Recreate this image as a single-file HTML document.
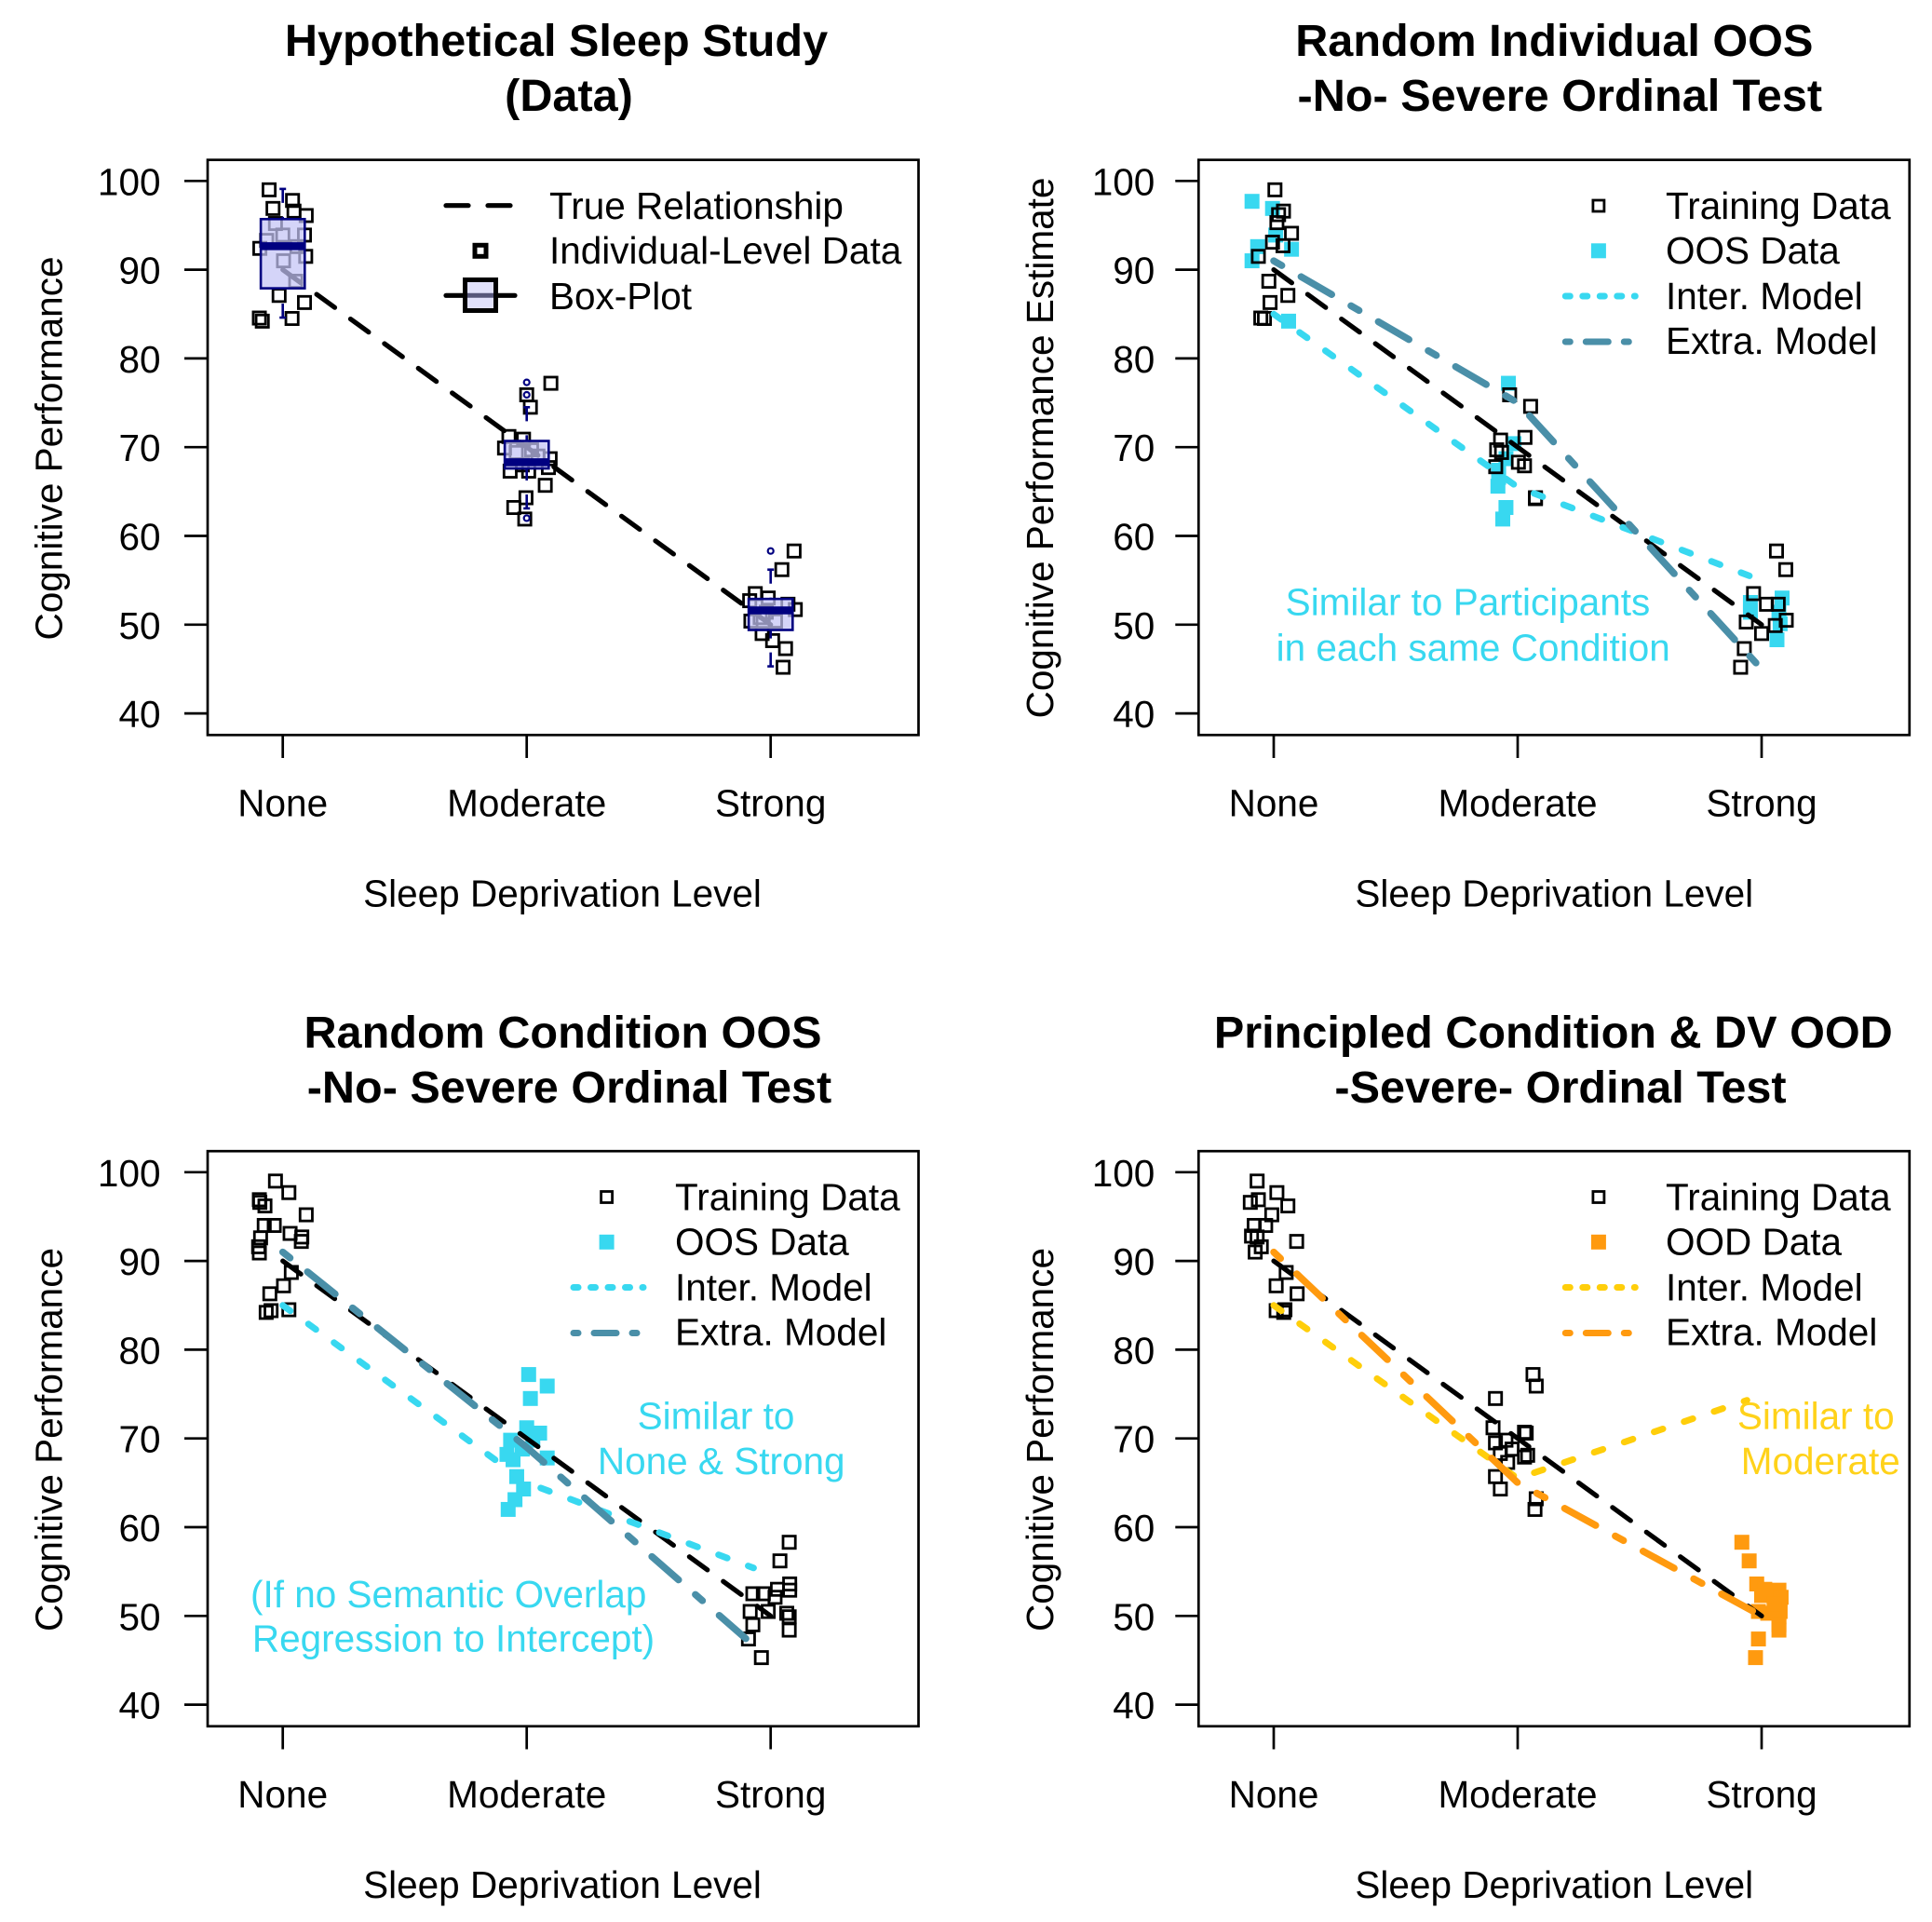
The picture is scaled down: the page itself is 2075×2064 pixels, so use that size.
<!DOCTYPE html>
<html lang="en">
<head>
<meta charset="utf-8">
<title>Hypothetical Sleep Study</title>
<style>
html,body{margin:0;padding:0;background:#fff;}
svg{display:block;}
text{font-family:"Liberation Sans",Arial,sans-serif;font-size:40.5px;fill:#000;}
.title{font-size:48.6px;font-weight:bold;text-anchor:middle;}
.axt{text-anchor:middle;}
.cy{fill:#38d8f0;text-anchor:middle;}
.ye{fill:#ffd21a;text-anchor:middle;}
</style>
</head>
<body>
<svg xmlns="http://www.w3.org/2000/svg" width="2075" height="2064" viewBox="0 0 2075 2064">
<rect width="2075" height="2064" fill="#fff"/>

<g id="p1">
  <text class="title" x="597.5" y="60">Hypothetical Sleep Study</text>
  <text class="title" x="611" y="119">(Data)</text>
  <text class="axt" x="604" y="973.7">Sleep Deprivation Level</text>
  <text class="axt" transform="translate(66.5,481.5) rotate(-90)">Cognitive Performance</text>
  <g id="p1-marks"></g>
  <g>
    <line x1="479" x2="553" y1="220.7" y2="220.7" stroke="#000" stroke-width="5.2" stroke-linecap="round" stroke-dasharray="24 21"/>
    <text x="590" y="235">True Relationship</text>
    <rect x="510" y="263.3" width="12" height="12" fill="#fff" stroke="#000" stroke-width="5"/>
    <text x="590" y="283">Individual-Level Data</text>
    <line x1="479" x2="553" y1="317.3" y2="317.3" stroke="#000" stroke-width="5.2" stroke-linecap="round"/>
    <rect x="499.5" y="300.5" width="33" height="33" fill="#e0e0fa" stroke="#000" stroke-width="5"/>
    <line x1="502" x2="530" y1="317.3" y2="317.3" stroke="#55557a" stroke-width="5"/>
    <text x="590" y="332">Box-Plot</text>
  </g>
</g>

<g id="p2" transform="translate(1064.3,0)">
  <text class="title" x="605" y="60">Random Individual OOS</text>
  <text class="title" x="611" y="119">-No- Severe Ordinal Test</text>
  <text class="axt" x="605" y="973.7">Sleep Deprivation Level</text>
  <text class="axt" transform="translate(66.5,481) rotate(-90)">Cognitive Performance Estimate</text>
  <g id="p2-marks"></g>
  <text class="cy" x="512.2" y="660.7">Similar to Participants</text>
  <text class="cy" x="517.9" y="709.3">in each same Condition</text>
  <g>
    <rect x="646.6" y="215" width="12" height="12" fill="none" stroke="#000" stroke-width="2.8"/>
    <text x="724.7" y="235">Training Data</text>
    <rect x="644.6" y="261.3" width="16" height="16" fill="#38d8f0"/>
    <text x="724.7" y="283">OOS Data</text>
    <line x1="617" x2="692" y1="318" y2="318" stroke="#38d8f0" stroke-width="7" stroke-linecap="round" stroke-dasharray="5 13.5"/>
    <text x="724.7" y="332">Inter. Model</text>
    <line x1="617" x2="688" y1="367" y2="367" stroke="#4a8fa8" stroke-width="7" stroke-linecap="round" stroke-dasharray="5 17 24 17"/>
    <text x="724.7" y="380">Extra. Model</text>
  </g>
</g>

<g id="p3" transform="translate(0,1064.5)">
  <text class="title" x="604.5" y="60.5">Random Condition OOS</text>
  <text class="title" x="611.5" y="119.5">-No- Severe Ordinal Test</text>
  <text class="axt" x="604" y="973.7">Sleep Deprivation Level</text>
  <text class="axt" transform="translate(66.5,481.5) rotate(-90)">Cognitive Performance</text>
  <g id="p3-marks"></g>
  <text class="cy" x="769" y="470">Similar to</text>
  <text class="cy" x="774.7" y="518.5">None &amp; Strong</text>
  <text class="cy" x="481.7" y="661.5">(If no Semantic Overlap</text>
  <text class="cy" x="487" y="709">Regression to Intercept)</text>
  <g>
    <rect x="645.6" y="215" width="12" height="12" fill="none" stroke="#000" stroke-width="2.8"/>
    <text x="725" y="235">Training Data</text>
    <rect x="643.6" y="261.3" width="16" height="16" fill="#38d8f0"/>
    <text x="725" y="283">OOS Data</text>
    <line x1="616" x2="691" y1="318" y2="318" stroke="#38d8f0" stroke-width="7" stroke-linecap="round" stroke-dasharray="5 13.5"/>
    <text x="725" y="332">Inter. Model</text>
    <line x1="616" x2="687" y1="367" y2="367" stroke="#4a8fa8" stroke-width="7" stroke-linecap="round" stroke-dasharray="5 17 24 17"/>
    <text x="725" y="380">Extra. Model</text>
  </g>
</g>

<g id="p4" transform="translate(1064.3,1064.5)">
  <text class="title" x="604" y="60.5">Principled Condition &amp; DV OOD</text>
  <text class="title" x="611.7" y="119.5">-Severe- Ordinal Test</text>
  <text class="axt" x="605" y="973.7">Sleep Deprivation Level</text>
  <text class="axt" transform="translate(66.5,481.5) rotate(-90)">Cognitive Performance</text>
  <g id="p4-marks"></g>
  <text class="ye" x="886" y="470">Similar to</text>
  <text class="ye" x="891" y="518.5">Moderate</text>
  <g>
    <rect x="646.6" y="215" width="12" height="12" fill="none" stroke="#000" stroke-width="2.8"/>
    <text x="724.7" y="235">Training Data</text>
    <rect x="644.6" y="261.3" width="16" height="16" fill="#ff9a0f"/>
    <text x="724.7" y="283">OOD Data</text>
    <line x1="617" x2="692" y1="318" y2="318" stroke="#ffce0a" stroke-width="7" stroke-linecap="round" stroke-dasharray="5 13.5"/>
    <text x="724.7" y="332">Inter. Model</text>
    <line x1="617" x2="688" y1="367" y2="367" stroke="#ff9a0f" stroke-width="7" stroke-linecap="round" stroke-dasharray="5 17 24 17"/>
    <text x="724.7" y="380">Extra. Model</text>
  </g>
</g>
</svg>

<script>
// Shared axis data
var categories = ["None", "Moderate", "Strong"];
var yTicks = [40, 50, 60, 70, 80, 90, 100];
var trueX = [0, 1, 2];
var trueY = [90, 70, 50];

// Panel 1: individual data
var p1DataX = [-.056,-.04,.04,.046,.096,-.03,0,.089,-.066,-.094,.058,.094,.003,.053,-.015,.089,.038,-.096,-.084,
  1.099,1,1.015,.927,.987,.909,1.096,.932,1.089,1.076,.997,.947,.992,.957,1.02,1.046,.982,1.008,
  2.096,2.046,1.937,1.99,1.914,2.071,2.101,1.919,1.965,2.008,2.061,2.051,1.982,2.02,1.957];
var p1DataY = [99,96.9,97.8,96.6,96.1,95.2,93.9,93.9,93.3,92.4,92.6,91.5,91,88.7,87.1,86.3,84.5,84.55,84.2,
  77.2,75.9,74.5,71.2,70.9,69.9,68.7,67.3,67.7,65.7,64.3,63.2,61.9,69.4,69.7,69,68,67.3,
  58.3,56.2,53.5,53,52.7,52.3,51.7,50.4,49,48.2,47.3,45.2,51.4,50.4,50.8];
var boxCenters = [0, 1, 2];
var boxQ1 = [87.9, 67.6, 49.4];
var boxMedian = [92.65, 68.3, 51.6];
var boxQ3 = [95.7, 70.7, 52.9];
var whiskerLow = [84.6, 63.1, 45.3];
var whiskerHigh = [99.1, 74.5, 56.2];
var outlierX = [1, 1, 1, 2];
var outlierY = [77.3, 75.9, 62, 58.3];

// Panel 2: random individual OOS
var p2TrainX = [.005,.04,.02,.013,.073,-.005,.038,-.063,-.02,.058,-.015,-.053,-.038,
  .967,1.053,1.03,.93,.914,.934,.91,1.003,1.028,1.073,1.073,
  2.061,2.099,1.967,2.02,2.068,1.937,2.101,2.056,2,1.929,1.914];
var p2TrainY = [99,96.6,96.2,95.3,94.1,93.1,92.7,91.5,88.7,87.1,86.3,84.55,84.5,
  75.9,74.6,71.1,70.8,69.7,69.4,67.8,68.3,67.9,64.3,64.2,
  58.3,56.2,53.5,52.3,52.3,50.3,50.5,49.9,49,47.3,45.2];
var p2TestX = [-.089,-.005,.008,-.066,.073,-.089,.061,
  .962,.985,.952,.922,.919,.952,.939,.922,
  2.084,1.954,1.954,2.071,2.063,2.076];
var p2TestY = [97.7,96.9,93.9,92.6,92.3,91,84.2,
  77.2,70.4,68.7,67.4,65.6,63.2,61.9,66.6,
  53,52.5,51.4,51.4,48.3,50.1];
var p2InterX = [0, 1, 1.95];
var p2InterY = [85, 65.5, 55.5];
var p2ExtraX = [0, 1, 2];
var p2ExtraY = [91, 75, 45];

// Panel 3: random condition OOS
var p3TrainX = [-.03,.025,-.096,-.094,-.073,.096,-.076,-.035,.03,.078,.076,-.091,-.099,-.096,.035,.003,-.053,.025,-.048,-.068,
  2.076,2.038,2.078,2.078,2.028,1.97,1.927,2.018,1.916,2.066,1.99,2.076,1.927,2.076,1.909,1.962];
var p3TrainY = [99,97.7,96.9,96.6,96.2,95.2,94,94,93.1,92.7,92.2,92.6,91.6,90.9,88.7,87.2,86.3,84.5,84.4,84.2,
  58.3,56.2,53.6,52.9,53,52.5,52.5,52.1,50.5,50.3,50.5,49.9,49,48.4,47.4,45.3];
var p3TestX = [1.008,1.084,1.015,1,1.053,.934,1.025,.919,.982,1.084,.944,.959,.987,.952,.924];
var p3TestY = [77.2,75.9,74.5,71.2,70.6,69.8,69.8,68.2,68.8,67.8,67.6,65.7,64.3,63.1,62];
var p3InterX = [0, 1, 1.93];
var p3InterY = [85, 65, 55.4];
var p3ExtraX = [0, 1, 1.95];
var p3ExtraY = [91, 69, 46.2];

// Panel 4: principled OOD
var p4TrainX = [-.068,.013,-.096,-.063,.058,-.008,-.08,-.033,-.068,-.091,.094,-.051,-.076,.051,.01,.096,.046,.01,.041,
  1.063,1.076,.909,.899,1.028,1.035,.952,.909,.977,.929,1.028,1.041,.959,.909,.929,1.076,1.071];
var p4TrainY = [99,97.7,96.6,96.9,96.2,95.2,94,94,92.7,92.8,92.2,91.6,91,88.7,87.2,86.3,84.5,84.4,84.2,
  77.2,75.9,74.5,71.2,70.7,70.6,69.8,69.5,68.8,68.3,67.9,68.1,67.3,65.7,64.3,63.2,62];
var p4TestX = [1.919,1.949,1.98,2.071,2.013,2.038,2.08,1.987,2.025,2.076,2.071,2.071,2.071,1.987,1.975,2,2.051];
var p4TestY = [58.3,56.2,53.6,52.9,53,52.5,52.1,50.5,50.3,50.5,49.9,49,48.4,47.4,45.3,52.3,51.3];
var p4InterX = [0, 1, 1.94];
var p4InterY = [85, 65.5, 74.3];
var p4ExtraX = [0, 1, 2];
var p4ExtraY = [91, 65, 50];

// Axis functions (panel-local pixel space)
function xAxis(v) { return 303.7 + v * 262; }
function yAxis(v) { return 194.3 + (100 - v) * 9.53; }

var NS = "http://www.w3.org/2000/svg";
var CYAN = "#38d8f0", TEAL = "#4a8fa8", ORANGE = "#ff9a0f", YELLOW = "#ffce0a", NAVY = "#000080";

function mk(tag, parent) {
  var el = document.createElementNS(NS, tag);
  parent.appendChild(el);
  return el;
}

function drawAxes(g, labelRight) {
  var frame = mk("rect", g);
  
  
  frame.setAttribute("x", 223);
  frame.setAttribute("y", 171.7);
  frame.setAttribute("width", 763.5);
  frame.setAttribute("height", 617.6);
  frame.setAttribute("fill", "none");
  frame.setAttribute("stroke", "#000");
  frame.setAttribute("stroke-width", 2.7);
  yTicks.forEach(function (t) {
    var tick = mk("line", g);
    
    
    tick.setAttribute("x1", 198);
    tick.setAttribute("x2", 223);
    tick.setAttribute("y1", yAxis(t));
    tick.setAttribute("y2", yAxis(t));
    tick.setAttribute("stroke", "#000");
    tick.setAttribute("stroke-width", 2.7);
    var lab = mk("text", g);
    
    
    lab.setAttribute("x", labelRight);
    lab.setAttribute("y", yAxis(t) + 15);
    lab.setAttribute("text-anchor", "end");
    lab.textContent = t;
  });
  categories.forEach(function (c, i) {
    var tick = mk("line", g);
    
    
    tick.setAttribute("x1", xAxis(i));
    tick.setAttribute("x2", xAxis(i));
    tick.setAttribute("y1", 789.3);
    tick.setAttribute("y2", 814);
    tick.setAttribute("stroke", "#000");
    tick.setAttribute("stroke-width", 2.7);
    var lab = mk("text", g);
    
    
    lab.setAttribute("x", xAxis(i));
    lab.setAttribute("y", 876.7);
    lab.setAttribute("text-anchor", "middle");
    lab.textContent = c;
  });
}

function drawOpen(g, xs, ys) {
  xs.forEach(function (x, i) {
    var s = mk("rect", g);
    
    
    s.setAttribute("x", xAxis(x) - 6.6);
    s.setAttribute("y", yAxis(ys[i]) - 6.6);
    s.setAttribute("width", 13.2);
    s.setAttribute("height", 13.2);
    s.setAttribute("fill", "none");
    s.setAttribute("stroke", "#000");
    s.setAttribute("stroke-width", 2.8);
  });
}

function drawFilled(g, xs, ys, color) {
  xs.forEach(function (x, i) {
    var s = mk("rect", g);
    
    
    s.setAttribute("x", xAxis(x) - 8);
    s.setAttribute("y", yAxis(ys[i]) - 8);
    s.setAttribute("width", 16);
    s.setAttribute("height", 16);
    s.setAttribute("fill", color);
  });
}

function pathFrom(xs, ys) {
  return xs.map(function (x, i) {
    return (i ? "L" : "M") + xAxis(x).toFixed(1) + " " + yAxis(ys[i]).toFixed(1);
  }).join(" ");
}

function drawTrue(g) {
  var p = mk("path", g);
  
  
  p.setAttribute("d", pathFrom(trueX, trueY));
  p.setAttribute("fill", "none");
  p.setAttribute("stroke", "#000");
  p.setAttribute("stroke-width", 5.2);
  p.setAttribute("stroke-linecap", "round");
  p.setAttribute("stroke-dasharray", "24 21");
}

function drawInter(g, xs, ys, color) {
  var p = mk("path", g);
  
  
  p.setAttribute("d", pathFrom(xs, ys));
  p.setAttribute("fill", "none");
  p.setAttribute("stroke", color);
  p.setAttribute("stroke-width", 7);
  p.setAttribute("stroke-linecap", "round");
  p.setAttribute("stroke-dasharray", "10 24");
}

function drawExtra(g, xs, ys, color) {
  var p = mk("path", g);
  
  
  p.setAttribute("d", pathFrom(xs, ys));
  p.setAttribute("fill", "none");
  p.setAttribute("stroke", color);
  p.setAttribute("stroke-width", 7.5);
  p.setAttribute("stroke-linecap", "round");
  p.setAttribute("stroke-dasharray", "10 24 38 24");
}

function drawBoxes(g) {
  boxCenters.forEach(function (c, i) {
    var cx = xAxis(c);
    [[whiskerHigh[i], boxQ3[i]], [whiskerLow[i], boxQ1[i]]].forEach(function (w) {
      var line = mk("line", g);
      
      
      line.setAttribute("x1", cx);
      line.setAttribute("x2", cx);
      line.setAttribute("y1", yAxis(w[0]));
      line.setAttribute("y2", yAxis(w[1]));
      line.setAttribute("stroke", NAVY);
      line.setAttribute("stroke-width", 2.6);
      line.setAttribute("stroke-dasharray", "15 15");
      var staple = mk("line", g);
      
      
      staple.setAttribute("x1", cx - 3.5);
      staple.setAttribute("x2", cx + 3.5);
      staple.setAttribute("y1", yAxis(w[0]));
      staple.setAttribute("y2", yAxis(w[0]));
      staple.setAttribute("stroke", NAVY);
      staple.setAttribute("stroke-width", 2.6);
    });
    var box = mk("rect", g);
    
    
    box.setAttribute("x", cx - 23.6);
    box.setAttribute("y", yAxis(boxQ3[i]));
    box.setAttribute("width", 47.2);
    box.setAttribute("height", yAxis(boxQ1[i]) - yAxis(boxQ3[i]));
    box.setAttribute("fill", "rgb(195,195,245)");
    box.setAttribute("fill-opacity", 0.72);
    box.setAttribute("stroke", NAVY);
    box.setAttribute("stroke-width", 2.6);
    var med = mk("line", g);
    
    
    med.setAttribute("x1", cx - 23.6);
    med.setAttribute("x2", cx + 23.6);
    med.setAttribute("y1", yAxis(boxMedian[i]));
    med.setAttribute("y2", yAxis(boxMedian[i]));
    med.setAttribute("stroke", NAVY);
    med.setAttribute("stroke-width", 8.5);
  });
  outlierX.forEach(function (x, i) {
    var o = mk("circle", g);
    
    
    o.setAttribute("cx", xAxis(x));
    o.setAttribute("cy", yAxis(outlierY[i]));
    o.setAttribute("r", 3);
    o.setAttribute("fill", "none");
    o.setAttribute("stroke", NAVY);
    o.setAttribute("stroke-width", 2.2);
  });
}

var g1 = document.getElementById("p1-marks");
drawAxes(g1, 172.5);
drawTrue(g1);
drawOpen(g1, p1DataX, p1DataY);
drawBoxes(g1);

var g2 = document.getElementById("p2-marks");
drawAxes(g2, 176);
drawFilled(g2, p2TestX, p2TestY, CYAN);
drawOpen(g2, p2TrainX, p2TrainY);
drawTrue(g2);
drawInter(g2, p2InterX, p2InterY, CYAN);
drawExtra(g2, p2ExtraX, p2ExtraY, TEAL);

var g3 = document.getElementById("p3-marks");
drawAxes(g3, 172.5);
drawOpen(g3, p3TrainX, p3TrainY);
drawFilled(g3, p3TestX, p3TestY, CYAN);
drawTrue(g3);
drawInter(g3, p3InterX, p3InterY, CYAN);
drawExtra(g3, p3ExtraX, p3ExtraY, TEAL);

var g4 = document.getElementById("p4-marks");
drawAxes(g4, 176);
drawOpen(g4, p4TrainX, p4TrainY);
drawFilled(g4, p4TestX, p4TestY, ORANGE);
drawTrue(g4);
drawInter(g4, p4InterX, p4InterY, YELLOW);
drawExtra(g4, p4ExtraX, p4ExtraY, ORANGE);
</script>
</body>
</html>
